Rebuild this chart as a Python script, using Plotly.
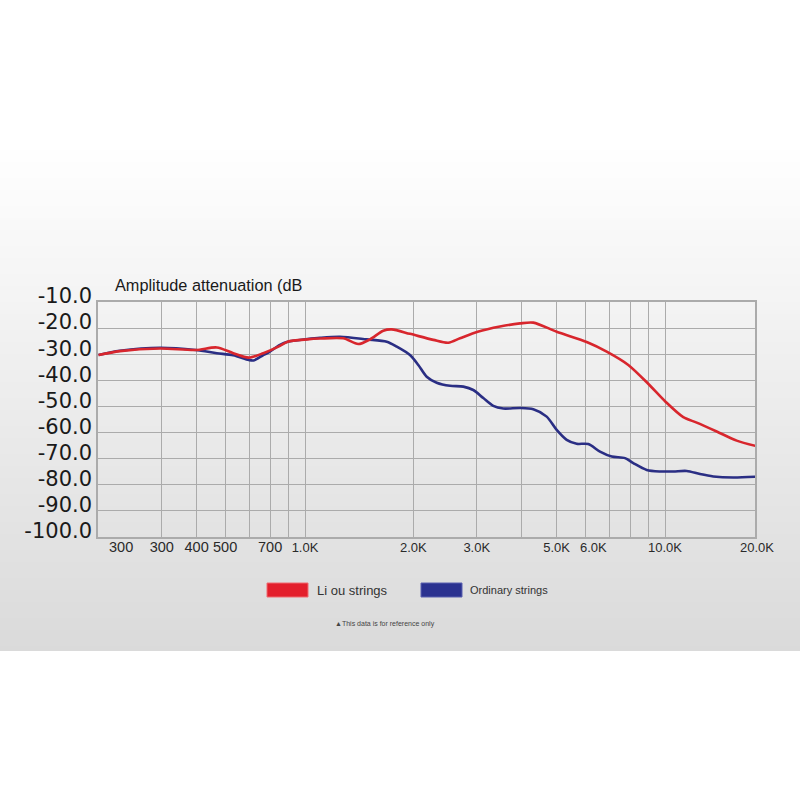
import numpy as np
import plotly.graph_objects as go

# ---- data (frequency in Hz, attenuation in dB) ----
ordinary_freq = [267, 306, 396, 497, 569, 632, 698, 719, 766, 793, 852, 895, 1015, 1101, 1251,
                 1484, 1687, 1798, 1957, 2064, 2178, 2322, 2528, 2753, 2934, 3128, 3334, 3554,
                 3956, 4307, 4692, 5002, 5332, 5684, 6122, 6599, 7113, 7743, 8164, 8896, 9685,
                 10545, 11489, 12509, 13622, 15475, 17827]
ordinary_db = [-30.3, -28.7, -27.5, -28.4, -29.6, -30.4, -32.2, -32.4, -30.3, -29.3, -26.4, -25.2,
               -24.2, -23.7, -23.3, -24.3, -25.2, -27.1, -30.3, -34.1, -38.6, -40.9, -42.1, -42.4,
               -43.7, -46.8, -49.8, -50.8, -50.6, -51.1, -53.9, -59.0, -62.8, -64.3, -64.4, -67.3,
               -69.2, -69.8, -71.7, -74.3, -74.9, -74.9, -74.7, -75.9, -76.8, -77.2, -76.9]

liou_freq = [267, 306, 396, 497, 569, 632, 698, 766, 852, 895, 1015, 1101, 1277, 1406, 1516,
             1650, 1741, 1957, 2272, 2501, 2695, 3018, 3481, 3956, 4307, 5002, 6083, 6887, 7908,
             9009, 10019, 11241, 12248, 13919, 15819, 17827]
liou_db = [-30.3, -28.8, -27.8, -28.4, -27.4, -29.6, -31.3, -29.6, -26.8, -25.2, -24.3, -24.0,
           -23.9, -26.1, -24.3, -21.0, -20.5, -22.2, -24.5, -25.6, -23.9, -21.4, -19.4, -18.2,
           -17.9, -21.4, -25.4, -29.0, -34.1, -41.5, -48.1, -54.1, -56.2, -59.6, -63.1, -65.1]

grid_freqs = [400, 500, 600, 700, 800, 900, 1000, 2000, 3000, 4000, 5000, 6000, 7000, 8000,
              9000, 10000]
grid_labels = ["300", "400", "500", "", "700", "", "1.0K", "2.0K", "3.0K", "", "5.0K", "",
               "", "", "", "10.0K"]
y_ticks = [-10, -20, -30, -40, -50, -60, -70, -80, -90, -100]
y_labels = ["%.1f" % v for v in y_ticks]

RED = "#d8262d"
BLUE = "#2a2e84"


def styled(lbl):
    if lbl == "" or lbl.endswith("K"):
        return lbl
    return '<span style="font-size:14.5px">%s</span>' % lbl


fig = go.Figure()
fig.add_trace(go.Scatter(x=ordinary_freq, y=ordinary_db, mode="lines",
                         line=dict(color=BLUE, width=2.6, shape="spline", smoothing=0.8),
                         showlegend=False))
fig.add_trace(go.Scatter(x=liou_freq, y=liou_db, mode="lines",
                         line=dict(color=RED, width=2.6, shape="spline", smoothing=0.8),
                         showlegend=False))

# layout geometry (pixels)
L, R, T, B = 98, 755, 302, 537
W, H = R - L, B - T


def px(x):
    return (x - L) / W


def py(y):
    return (B - y) / H


shapes = []
# background gradient
y0, y1 = 130, 651
step = 4
for yy in range(y0, y1, step):
    t = (yy - 140) / (650 - 140)
    t = min(max(t, 0), 1)
    c = int(round(255 - 37 * t))
    col = "rgb(%d,%d,%d)" % (c, c, c)
    shapes.append(dict(type="rect", xref="paper", yref="paper", x0=px(0), x1=px(800),
                       y0=py(min(yy + step, y1)), y1=py(yy), fillcolor=col, line=dict(width=0),
                       layer="below"))
# legend swatches
shapes.append(dict(type="rect", xref="paper", yref="paper", x0=px(267), x1=px(308),
                   y0=py(597), y1=py(583), fillcolor="#e31f2c", line=dict(color="#f06a70", width=1)))
shapes.append(dict(type="rect", xref="paper", yref="paper", x0=px(421), x1=px(462),
                   y0=py(597), y1=py(583), fillcolor="#2b3290", line=dict(color="#5a60b0", width=1)))

label_y = py(547)
annotations = [
    dict(text="Amplitude attenuation (dB", xref="paper", yref="paper", x=px(113), y=py(285),
         xanchor="left", yanchor="middle", showarrow=False,
         font=dict(family="Liberation Sans", size=16.3, color="#1a1a1a")),
    dict(text="Li ou strings", xref="paper", yref="paper", x=px(315), y=py(590),
         xanchor="left", yanchor="middle", showarrow=False,
         font=dict(family="Liberation Sans", size=13, color="#333333")),
    dict(text="Ordinary strings", xref="paper", yref="paper", x=px(468), y=py(590),
         xanchor="left", yanchor="middle", showarrow=False,
         font=dict(family="Liberation Sans", size=11, color="#333333")),
    dict(text="▲This data is for reference only", xref="paper", yref="paper", x=px(333),
         y=py(624), xanchor="left", yanchor="middle", showarrow=False,
         font=dict(family="Liberation Sans", size=7, color="#444444")),
    dict(text="300", xref="paper", yref="paper", x=px(121), y=label_y,
         xanchor="center", yanchor="middle", showarrow=False,
         font=dict(family="Liberation Sans", size=14.5, color="#2a2a2a")),
    dict(text="6.0K", xref="paper", yref="paper", x=px(593), y=label_y,
         xanchor="center", yanchor="middle", showarrow=False,
         font=dict(family="Liberation Sans", size=13, color="#2a2a2a")),
    dict(text="20.0K", xref="paper", yref="paper", x=px(757), y=label_y,
         xanchor="center", yanchor="middle", showarrow=False,
         font=dict(family="Liberation Sans", size=13, color="#2a2a2a")),
]

x_lo = (L + 775) / 360
x_hi = (R + 775) / 360

fig.update_layout(
    width=800, height=800,
    margin=dict(l=L, r=800 - R, t=T, b=800 - B, pad=0),
    paper_bgcolor="white",
    plot_bgcolor="rgba(0,0,0,0)",
    shapes=shapes,
    annotations=annotations,
    xaxis=dict(type="log", range=[x_lo, x_hi], tickmode="array", tickvals=grid_freqs,
               ticktext=[styled(t) for t in grid_labels], showgrid=True, gridcolor="#ababab",
               gridwidth=1, showline=True, linecolor="#ababab", linewidth=1.5, mirror=True,
               ticks="", zeroline=False, tickangle=0, ticklabelstandoff=-2,
               tickfont=dict(family="Liberation Sans", size=13, color="#2a2a2a")),
    yaxis=dict(range=[-100, -10], tickmode="array", tickvals=y_ticks, ticktext=y_labels,
               showgrid=True, gridcolor="#ababab", gridwidth=1, showline=True,
               linecolor="#ababab", linewidth=1.5, mirror=True, ticks="", zeroline=False,
               ticklabelshift=-6, ticklabelstandoff=0,
               tickfont=dict(family="DejaVu Sans", size=21, color="#1a1a1a")),
)

fig.write_html("out.html", config={"displayModeBar": False},
               post_script="document.body.style.margin='0';")
